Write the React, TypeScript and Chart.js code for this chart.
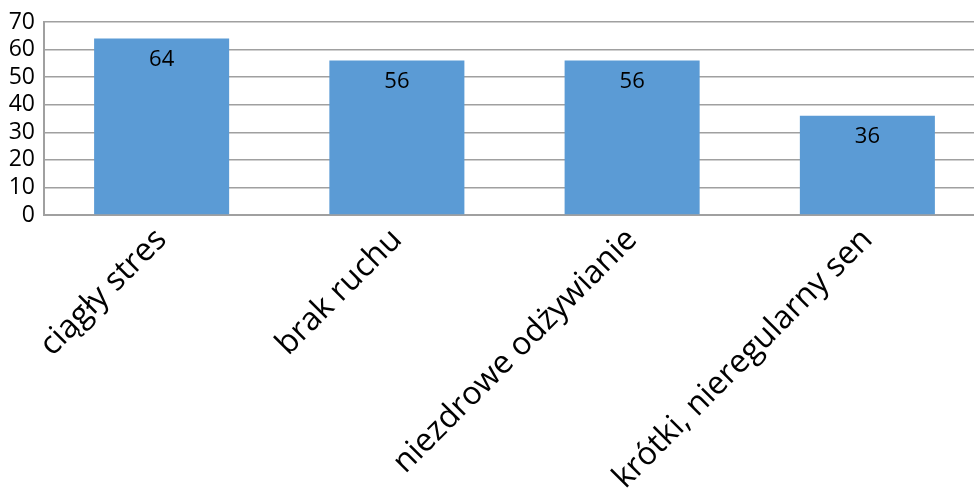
import React, { useEffect, useRef } from "react";
import { Chart, registerables } from "chart.js";

Chart.register(...registerables);

const categories = ["ciągły stres", "brak ruchu", "niezdrowe odżywianie", "krótki, nieregularny sen"];
const values = [64, 56, 56, 36];
const yMin = 0;
const yMax = 70;
const yStep = 10;

const FONT = "'Open Sans'";

const dataLabelPlugin = {
  id: "dataLabels",
  afterDatasetsDraw(chart: any) {
    const ctx = chart.ctx;
    const meta = chart.getDatasetMeta(0);
    ctx.save();
    ctx.font = `22px ${FONT}`;
    ctx.fillStyle = "#000";
    ctx.textAlign = "center";
    ctx.textBaseline = "middle";
    meta.data.forEach((bar: any, i: number) => {
      ctx.fillText(String(values[i]), bar.x, bar.y + 21);
    });
    ctx.restore();
  },
};

export default function App() {
  const ref = useRef<HTMLCanvasElement>(null);
  useEffect(() => {
    if (!ref.current) return;
    const chart = new Chart(ref.current, {
      type: "bar",
      data: {
        labels: categories,
        datasets: [
          {
            data: values,
            backgroundColor: "#5B9BD5",
            borderWidth: 0,
            categoryPercentage: 1,
            barPercentage: 0.574,
          },
        ],
      },
      options: {
        animation: false,
        responsive: false,
        devicePixelRatio: 1,
        layout: { padding: { top: 22, right: 15, left: 0, bottom: 0 } },
        plugins: { legend: { display: false }, tooltip: { enabled: false } },
        scales: {
          x: {
            grid: { display: false, drawTicks: false },
            border: { display: true, color: "#A0A0A0", width: 2 },
            ticks: {
              color: "#000",
              font: { family: FONT, size: 32 },
              minRotation: 45,
              maxRotation: 45,
              padding: 6,
              autoSkip: false,
            },
            afterFit: (s: any) => {
              s.height = 277;
              s.paddingLeft = 0;
              s.paddingRight = 0;
            },
          },
          y: {
            min: yMin,
            max: yMax,
            grid: { color: "#A0A0A0", lineWidth: 1.5, drawTicks: false },
            border: { display: true, color: "#A0A0A0", width: 2 },
            ticks: {
              color: "#000",
              font: { family: FONT, size: 23 },
              padding: 9,
              stepSize: yStep,
              autoSkip: false,
            },
            afterFit: (s: any) => {
              s.width = 44;
              s.paddingTop = 0;
              s.paddingBottom = 0;
            },
          },
        },
      },
      plugins: [dataLabelPlugin],
    });
    return () => chart.destroy();
  }, []);
  return (
    <div style={{ position: "fixed", left: 0, top: 0, width: 974, height: 492, overflow: "hidden", background: "#fff" }}>
      <canvas ref={ref} width={1000} height={492} style={{ width: 1000, height: 492, display: "block" }} />
    </div>
  );
}
